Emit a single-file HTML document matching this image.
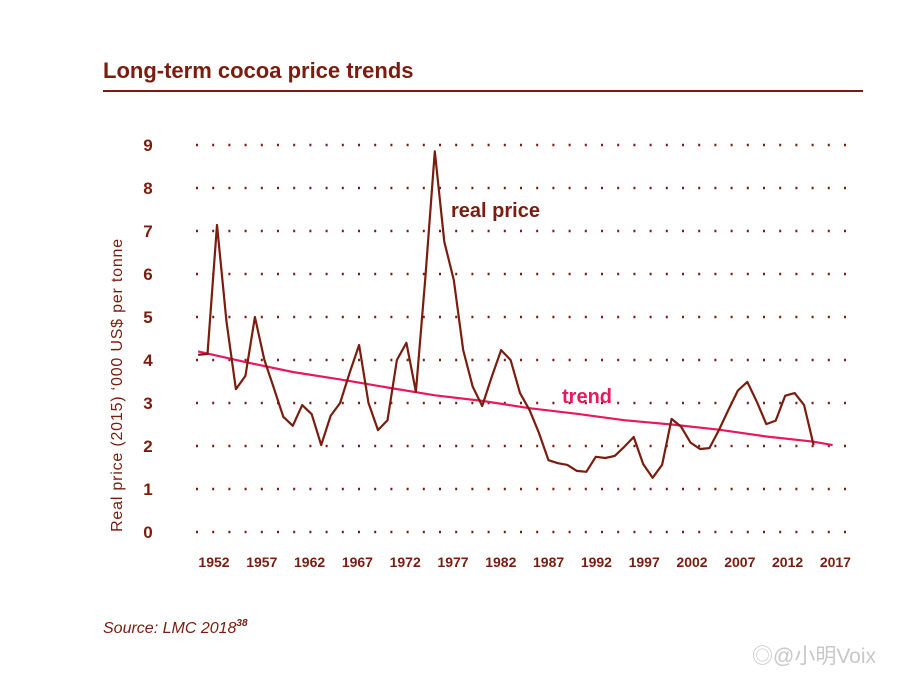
<!DOCTYPE html>
<html><head><meta charset="utf-8">
<style>
body{margin:0;background:#fff;width:913px;height:674px;overflow:hidden;font-family:"Liberation Sans",sans-serif}
svg{position:absolute;left:0;top:0}
</style></head>
<body>
<svg width="913" height="674" xmlns="http://www.w3.org/2000/svg" id="chart">
<text x="103" y="78" font-size="22" font-weight="bold" fill="#7a1c0e">Long-term cocoa price trends</text>
<line x1="103" y1="91" x2="863" y2="91" stroke="#7a1c0e" stroke-width="2"/>
<text transform="translate(122,385) rotate(-90)" text-anchor="middle" font-size="16" letter-spacing="0.8" fill="#7a1c0e">Real price (2015) ‘000 US$ per tonne</text>
<g id="grid"></g>
<g id="yticks"></g>
<g id="xticks"></g>
<path id="trend" fill="none" stroke="#e8185e" stroke-width="2.2"/>
<path id="price" fill="none" stroke="#7a1c0e" stroke-width="2.2" stroke-linejoin="round"/>
<text x="451" y="217" font-size="20" font-weight="bold" fill="#7a1c0e">real price</text>
<text x="562" y="403" font-size="20" font-weight="bold" fill="#e8185e">trend</text>
<text x="103" y="633" font-size="16" font-style="italic" fill="#7a1c0e">Source: LMC 2018<tspan font-size="10" font-weight="bold" dy="-7">38</tspan></text>
<text x="752" y="663" font-size="21" fill="#c8c8c8" font-family="Liberation Sans, Noto Sans CJK SC, sans-serif">◎@小明Voix</text>
</svg>
<script>
const priceYears=[1950,1951,1952,1953,1954,1955,1956,1957,1958,1959,1960,1961,1962,1963,1964,1965,1966,1967,1968,1969,1970,1971,1972,1973,1974,1975,1976,1977,1978,1979,1980,1981,1982,1983,1984,1985,1986,1987,1988,1989,1990,1991,1992,1993,1994,1995,1996,1997,1998,1999,2000,2001,2002,2003,2004,2005,2006,2007,2008,2009,2010,2011,2012,2013,2014,2015];
const priceValues=[4.12,4.14,7.14,4.89,3.32,3.63,5.0,4.0,3.35,2.68,2.47,2.95,2.74,2.02,2.7,3.0,3.7,4.35,3.0,2.37,2.6,4.0,4.4,3.26,5.9,8.85,6.75,5.86,4.23,3.38,2.93,3.6,4.23,4.0,3.23,2.84,2.3,1.67,1.6,1.56,1.42,1.4,1.75,1.72,1.77,1.98,2.21,1.58,1.26,1.56,2.63,2.45,2.08,1.93,1.95,2.37,2.84,3.29,3.49,3.03,2.51,2.59,3.17,3.23,2.95,2.02];
const trendYears=[1950,1955,1960,1965,1970,1975,1980,1985,1990,1995,2000,2005,2010,2015,2017];
const trendValues=[4.2,3.95,3.72,3.55,3.36,3.18,3.05,2.88,2.75,2.6,2.5,2.38,2.22,2.1,2.02];
const yTicks=[0,1,2,3,4,5,6,7,8,9];
const xTicks=[1952,1957,1962,1967,1972,1977,1982,1987,1992,1997,2002,2007,2012,2017];
const NS="http://www.w3.org/2000/svg";
function xs(yr){return 217+(yr-1952)*9.47;}
function xl(yr){return 214+(yr-1952)*9.56;}
function ys(v){return 532-v*43;}
const grid=document.getElementById('grid'),yt=document.getElementById('yticks'),xt=document.getElementById('xticks');
yTicks.forEach(v=>{
  const l=document.createElementNS(NS,'line');
  l.setAttribute('x1',196);l.setAttribute('x2',850);l.setAttribute('y1',ys(v));l.setAttribute('y2',ys(v));
  l.setAttribute('stroke','#7a1c0e');l.setAttribute('stroke-width','2.6');l.setAttribute('stroke-dasharray','2 14.2');
  
  
  grid.appendChild(l);
  const t=document.createElementNS(NS,'text');
  t.setAttribute('x',148);t.setAttribute('y',ys(v)+6);t.setAttribute('text-anchor','middle');
  t.setAttribute('font-size','17');t.setAttribute('font-weight','bold');t.setAttribute('fill','#7a1c0e');
  t.textContent=v;
  
  
  yt.appendChild(t);
});
xTicks.forEach(yr=>{
  const t=document.createElementNS(NS,'text');
  t.setAttribute('x',xl(yr));t.setAttribute('y',567);t.setAttribute('text-anchor','middle');
  t.setAttribute('font-size','14');t.setAttribute('font-weight','bold');t.setAttribute('fill','#7a1c0e');
  t.textContent=yr;
  
  
  xt.appendChild(t);
});
document.getElementById('price').setAttribute('d',priceYears.map((y,i)=>(i?'L':'M')+xs(y).toFixed(1)+','+ys(priceValues[i]).toFixed(1)).join(''));
document.getElementById('trend').setAttribute('d',trendYears.map((y,i)=>(i?'L':'M')+xs(y).toFixed(1)+','+ys(trendValues[i]).toFixed(1)).join(''));
</script>
</body></html>
